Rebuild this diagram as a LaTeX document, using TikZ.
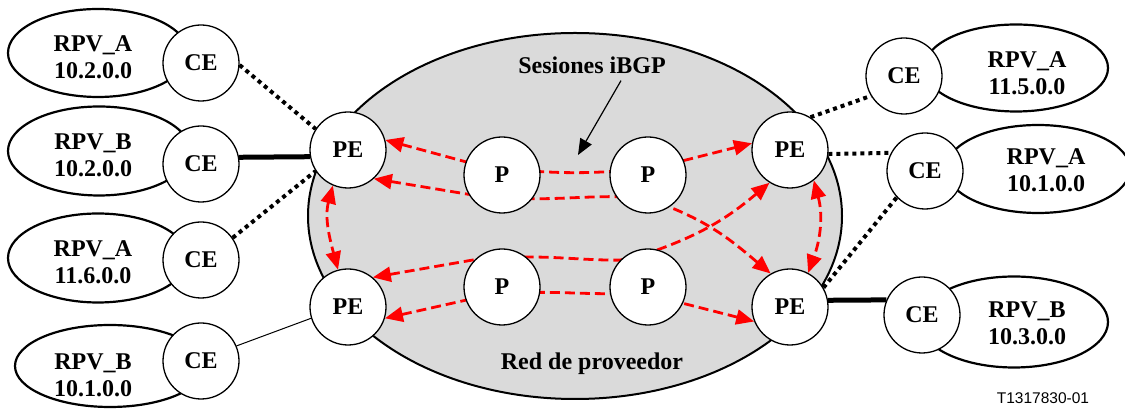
\documentclass[tikz,border=0pt]{standalone}
\usepackage{fontspec}
\setmainfont{Liberation Serif}
\newfontfamily\arialf{Liberation Sans}
\usetikzlibrary{shapes.geometric,arrows.meta}
\pgfdeclarelayer{bg}
\pgfsetlayers{bg,main}
\definecolor{cloudgray}{HTML}{DADADA}
\begin{document}
\begin{tikzpicture}[x=1pt,y=1pt,
  lbl/.style={font=\fontsize{24}{27}\selectfont\bfseries, align=center, inner sep=0pt},
  rnode/.style={circle, draw, line width=1.3pt, fill=white, minimum size=76pt, inner sep=0pt, font=\fontsize{24}{27}\selectfont\bfseries},
  rpv/.style={ellipse, draw, line width=2.2pt, fill=white, inner sep=0pt},
  dotc/.style={line width=4pt, dash pattern=on 4pt off 4pt},
  thickc/.style={line width=5pt},
  thinc/.style={line width=1pt},
  sess/.style={red, line width=2.8pt, dash pattern=on 10pt off 5pt,
    {Triangle[length=18pt,width=15pt]}-{Triangle[length=18pt,width=15pt]}},
  ptr/.style={line width=1.2pt, -{Triangle[length=16pt,width=13pt]}}
]
\useasboundingbox (0,0) rectangle (1125,409);

% customer sites (left)
\node[rpv, minimum width=180pt, minimum height=88pt] (eL1) at (98,356) {};
\node[rpv, minimum width=182pt, minimum height=89pt] (eL2) at (99,258) {};
\node[rpv, minimum width=180pt, minimum height=89pt] (eL3) at (98,151) {};
\node[rpv, minimum width=190pt, minimum height=82pt] (eL4) at (110,43) {};
\node[lbl] (tL1) at (93,352) {RPV\_A\\10.2.0.0};
\node[lbl] (tL2) at (93,254) {RPV\_B\\10.2.0.0};
\node[lbl] (tL3) at (93,147) {RPV\_A\\11.6.0.0};
\node[lbl] (tL4) at (93,34) {RPV\_B\\10.1.0.0};

% customer sites (right)
\node[rpv, minimum width=184pt, minimum height=87pt] (eR1) at (1016,341) {};
\node[rpv, minimum width=184pt, minimum height=88pt] (eR2) at (1038,240) {};
\node[rpv, minimum width=188pt, minimum height=91pt] (eR3) at (1014,87) {};
\node[lbl] (tR1) at (1027,336) {RPV\_A\\11.5.0.0};
\node[lbl] (tR2) at (1046,239) {RPV\_A\\10.1.0.0};
\node[lbl] (tR3) at (1027,86) {RPV\_B\\10.3.0.0};

% CE routers
\node[rnode] (CE1) at (201,346) {CE};
\node[rnode] (CE2) at (201,245) {CE};
\node[rnode] (CE3) at (201,149) {CE};
\node[rnode] (CE4) at (201,48) {CE};
\node[rnode] (CER1) at (904,333) {CE};
\node[rnode] (CER2) at (925,238) {CE};
\node[rnode] (CER3) at (922,94) {CE};

% PE routers
\node[rnode] (PELT) at (348,259) {PE};
\node[rnode] (PELB) at (348,102) {PE};
\node[rnode] (PERT) at (790,259) {PE};
\node[rnode] (PERB) at (790,102) {PE};

% P routers
\node[rnode] (P1) at (502,234) {P};
\node[rnode] (P2) at (648,234) {P};
\node[rnode] (P3) at (502,122) {P};
\node[rnode] (P4) at (648,122) {P};

% labels
\node[lbl] (ses) at (592,344) {Sesiones iBGP};
\node[lbl] (red) at (592,45) {Red de proveedor};
\node[font=\arialf\fontsize{15.5}{17}\selectfont, inner sep=0pt] (fig) at (1043,11) {T1317830-01};
\coordinate (sesB) at (578,254);
\draw[ptr] ([xshift=29pt,yshift=-7pt]ses.south) -- (sesB);

% access links
\draw[dotc] (CE1.-3) -- (PELT.147);
\draw[thickc] (CE2.10) -- (PELT.190);
\draw[dotc] (CE3.35) -- (PELT.213);
\draw[thinc] (CE4.23) -- (PELB.197);
\draw[dotc] (PERT.58) -- (CER1.211);
\draw[dotc] (PERT.-6) -- (CER2.152);
\draw[dotc] (PERB.30) -- (CER2.223);
\draw[thickc] (PERB.10) -- (CER3.157);

% provider network and iBGP sessions
\begin{pgfonlayer}{bg}
\node[ellipse, draw, line width=2pt, fill=cloudgray, minimum width=534pt, minimum height=366pt, inner sep=0pt] (net) at (575,193) {};
\draw[sess] (PELT.15) -- (P1.160) -- (P1.5) to[out=-3,in=183] (P2.175) -- (P2.22) -- (PERT.170);
\draw[sess] (PELT.-48) -- (P1.210) -- (P1.-38) to[out=0,in=180] (P2.214) -- (P2.-56) to[out=-22,in=140] (PERB.120);
\draw[sess] (PELB.50) -- (P3.135) -- (P3.51) to[out=0,in=180] (P4.136) -- (P4.75) to[out=20,in=220] (PERT.238);
\draw[sess] (PELB.-17) -- (P3.200) -- (P3.-8) to[out=0,in=180] (P4.190) -- (P4.-25) -- (PERB.202);
\draw[sess] (PELT.247) to[out=255,in=105] (PELB.105);
\draw[sess] (PERT.-52) to[out=-75,in=70] (PERB.62);
\end{pgfonlayer}
\end{tikzpicture}
\end{document}
